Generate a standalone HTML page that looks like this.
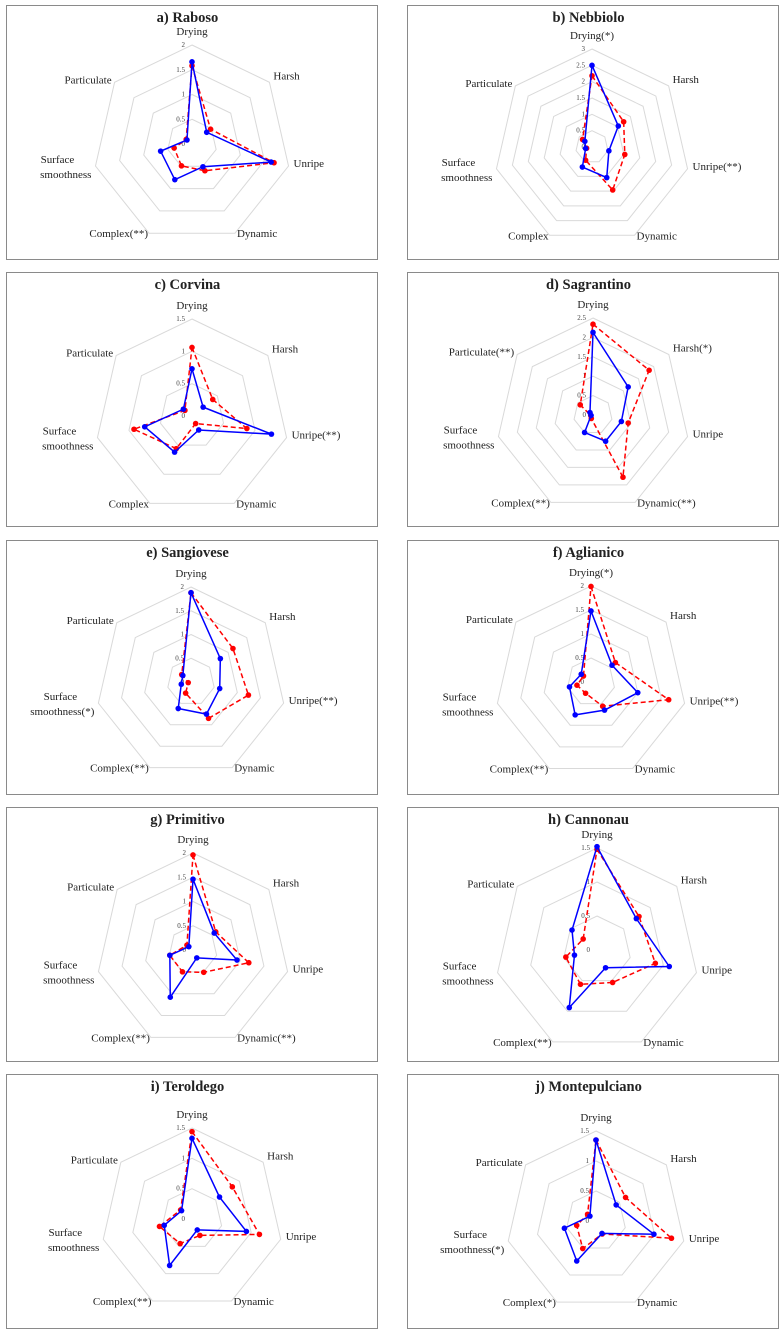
<!DOCTYPE html>
<html><head><meta charset="utf-8">
<style>
html,body{margin:0;padding:0;background:#fff;}
svg{display:block;}
text{font-family:"Liberation Serif",serif;fill:#222;}
.title{font-weight:bold;font-size:14.5px;}
.ax{font-size:11px;}
.tk{font-size:7px;fill:#444;}
</style></head>
<body>
<svg id="root" width="782" height="1334" viewBox="0 0 782 1334"></svg>
<script>
const axisNames = ["Drying","Harsh","Unripe","Dynamic","Complex","Surface smoothness","Particulate"];
const panelTitles = ["a) Raboso","b) Nebbiolo","c) Corvina","d) Sagrantino","e) Sangiovese","f) Aglianico","g) Primitivo","h) Cannonau","i) Teroldego","j) Montepulciano"];
const axisMarks = [
 ["","","","","(**)","",""],
 ["(*)","","(**)","","","",""],
 ["","","(**)","","","",""],
 ["","(*)","","(**)","(**)","","(**)"],
 ["","","(**)","","(**)","(*)",""],
 ["(*)","","(**)","","(**)","",""],
 ["","","","(**)","(**)","",""],
 ["","","","","(**)","",""],
 ["","","","","(**)","",""],
 ["","","","","(*)","(*)",""]
];
const scaleMax = [2,3,1.5,2.5,2,2,2,1.5,1.5,1.5];
const tickStep = 0.5;
const rabosoBlue = [1.66,0.38,1.64,0.51,0.8,0.65,0.13];
const rabosoRed = [1.58,0.48,1.7,0.6,0.49,0.37,0.15];
const nebbioloBlue = [2.5,1.03,0.53,1.04,0.68,0.2,0.28];
const nebbioloRed = [2.18,1.24,1.03,1.46,0.45,0.17,0.37];
const corvinaBlue = [0.73,0.22,1.26,0.24,0.62,0.75,0.17];
const corvinaRed = [1.06,0.41,0.87,0.13,0.56,0.92,0.14];
const sagrantinoBlue = [2.13,1.16,0.75,0.75,0.5,0.05,0.1];
const sagrantinoRed = [2.34,1.85,0.93,1.78,0.1,0.06,0.42];
const sangioveseBlue = [1.88,0.79,0.62,0.75,0.62,0.21,0.22];
const sangioveseRed = [1.88,1.13,1.24,0.85,0.26,0.06,0.25];
const aglianicoBlue = [1.48,0.56,1.0,0.65,0.76,0.46,0.26];
const aglianicoRed = [1.99,0.65,1.66,0.56,0.26,0.3,0.2];
const primitivoBlue = [1.46,0.56,0.93,0.18,1.08,0.49,0.11];
const primitivoRed = [1.96,0.6,1.18,0.51,0.5,0.49,0.16];
const cannonauBlue = [1.52,0.74,1.09,0.29,0.94,0.34,0.47];
const cannonauRed = [1.48,0.79,0.88,0.53,0.56,0.47,0.26];
const teroldegoBlue = [1.33,0.58,0.92,0.2,0.85,0.47,0.22];
const teroldegoRed = [1.44,0.85,1.14,0.3,0.45,0.55,0.24];
const montepulcianoBlue = [1.35,0.43,0.99,0.23,0.74,0.54,0.13];
const montepulcianoRed = [1.35,0.63,1.29,0.24,0.51,0.33,0.18];
const blueSeries = [rabosoBlue,nebbioloBlue,corvinaBlue,sagrantinoBlue,sangioveseBlue,aglianicoBlue,primitivoBlue,cannonauBlue,teroldegoBlue,montepulcianoBlue];
const redSeries = [rabosoRed,nebbioloRed,corvinaRed,sagrantinoRed,sangioveseRed,aglianicoRed,primitivoRed,cannonauRed,teroldegoRed,montepulcianoRed];

// layout (geometry only)
const boxTops = [5,5,272,272,540,540,807,807,1074,1074];
const centers = [[192,144,99],[592,147,98],[192,416,97],[593,415,97],[191,682,95],[591,682,96],[193,950,97],[597,950,102],[192,1219,91],[596,1221,90]];

const NS = "http://www.w3.org/2000/svg";
const root = document.getElementById("root");
function mk(tag, attrs, parent){
  const e = document.createElementNS(NS, tag);
  for (const k in attrs) e.setAttribute(k, attrs[k]);
  (parent||root).appendChild(e);
  return e;
}
function angle(k){ return -Math.PI/2 + k*2*Math.PI/7; }
function pt(cx,cy,R,max,k,v){ const r = v/max*R; return [cx + r*Math.cos(angle(k)), cy + r*Math.sin(angle(k))]; }

for (let p=0;p<10;p++){
  const left = p%2===0;
  const bx = left?6:407, bw = left?371:371, by = boxTops[p], bh = 254;
  const [cx,cy,R] = centers[p];
  const max = scaleMax[p];
  const g = mk("g",{});
  
  
  const box = mk("rect",{x:bx+0.5,y:by+0.5,width:bw,height:bh,fill:"#fff",stroke:"#8a8a8a","stroke-width":1},g);
  
  
  const t = mk("text",{x:bx+bw/2-4,y:by+17,"text-anchor":"middle",class:"title"},g);
  t.textContent = panelTitles[p];
  
  
  // grid rings
  const nT = Math.round(max/tickStep);
  for (let i=1;i<=nT;i++){
    const v = i*tickStep;
    const pts = [];
    for (let k=0;k<7;k++) pts.push(pt(cx,cy,R,max,k,v).join(","));
    const ring = mk("polygon",{points:pts.join(" "),fill:"none",stroke:"#d9d9d9","stroke-width":1},g);
    
    
  }
  for (let i=0;i<=nT;i++){
    const v = i*tickStep;
    const tl = mk("text",{x:cx-7,y:cy - v/max*R + 2,"text-anchor":"end",class:"tk"},g);
    tl.textContent = String(v);
    
    
  }
  // axis labels
  for (let k=0;k<7;k++){
    const [vx,vy] = pt(cx,cy,R,max,k,max);
    const name = axisNames[k] + axisMarks[p][k];
    let x=vx, y=vy, anchor="start";
    if (k===0){ anchor="middle"; y = vy-10; }
    else if (k===1){ x=vx+4; y=vy-3; }
    else if (k===2){ x=vx+5; y=vy+1; }
    else if (k===3){ x=vx+2; y=vy+4; }
    else if (k===4){ anchor="end"; x=vx-1; y=vy+4; }
    else if (k===5){ anchor="end"; x=vx-4; y=vy-3; }
    else { anchor="end"; x=vx-3; y=vy+1; }
    const lab = mk("text",{x:x,y:y,"text-anchor":anchor,class:"ax"},g);
    if (k===5){
      const parts = ["Surface","smoothness"+axisMarks[p][k]];
      const s1 = mk("tspan",{x:x-14,dy:0},lab); s1.textContent = parts[0];
      const s2 = mk("tspan",{x:x,dy:15},lab); s2.textContent = parts[1];
      lab.setAttribute("text-anchor","end");
      s1.setAttribute("text-anchor","middle");
      s1.setAttribute("x", x - 34);
    } else lab.textContent = name;
    
    
  }
  // series
  const series = [[redSeries[p],"#ff0000","5,3","red"],[blueSeries[p],"#0000ff","","blue"]];
  for (const [vals,col,dash,nm] of series){
    const pts = vals.map((v,k)=>pt(cx,cy,R,max,k,v));
    const attrs = {points:pts.map(q=>q.join(",")).join(" "),fill:"none",stroke:col,"stroke-width":1.5};
    if (dash) attrs["stroke-dasharray"]=dash;
    const poly = mk("polygon",attrs,g);
    
    
    for (const q of pts){
      const c = mk("circle",{cx:q[0],cy:q[1],r:2.8,fill:col},g);
      
      
    }
  }
}
</script>
</body></html>
